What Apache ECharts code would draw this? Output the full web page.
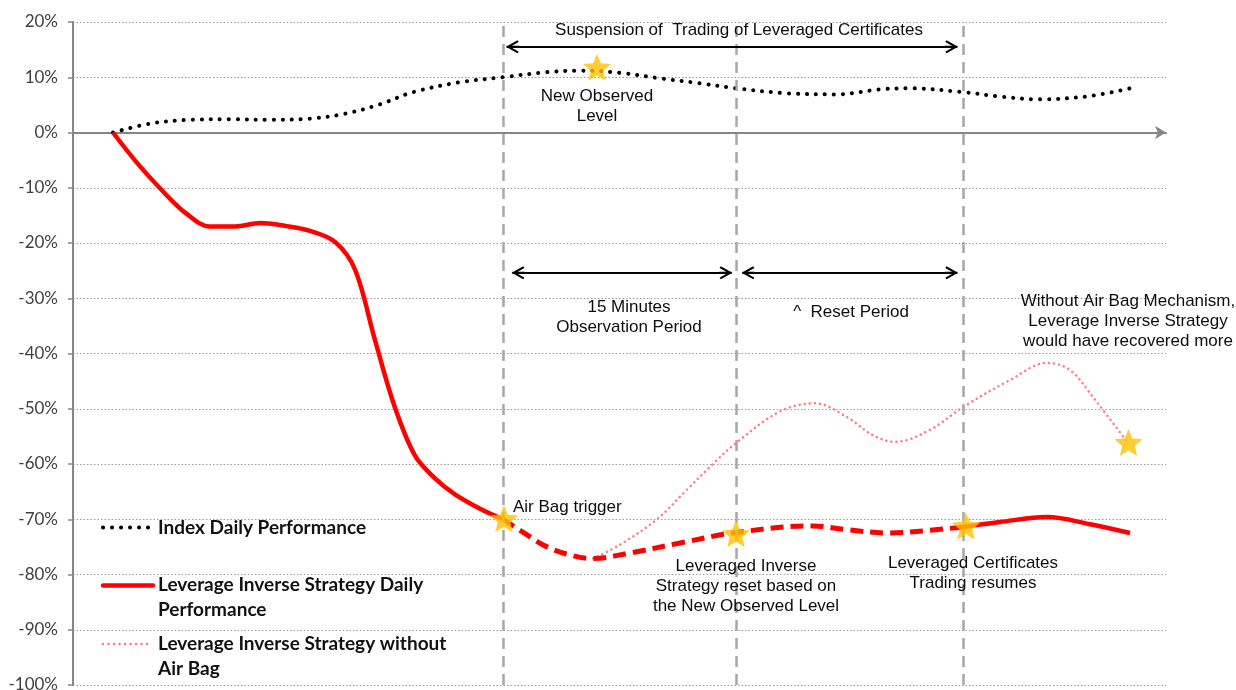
<!DOCTYPE html>
<html><head><meta charset="utf-8">
<script src="https://cdn.jsdelivr.net/npm/echarts@6/dist/echarts.min.js"></script>
<style>html,body{margin:0;padding:0;background:#fff}#c{width:1236px;height:690px}</style>
</head><body><div id="c"></div>
<script>
// ---- data (x: time position 0..100, y: performance in %) ----
const indexX = [3.66, 7.04, 10.70, 14.36, 18.02, 21.68, 24.89, 28.09, 31.11, 35.41, 39.34, 43.18, 46.39, 50.05, 53.71, 57.36, 60.66, 65.32, 69.90, 73.83, 76.58, 81.43, 84.81, 88.47, 93.05, 96.71];
const indexY = [0, 1.6, 2.3, 2.4, 2.3, 2.5, 3.4, 5.1, 7.3, 9.1, 10.0, 10.9, 11.2, 10.8, 9.8, 8.9, 8.0, 7.1, 6.9, 7.8, 8.0, 7.3, 6.5, 6.0, 6.6, 8.0];

const strategyX = [3.66, 5.86, 7.96, 10.25, 12.53, 14.82, 17.11, 19.40, 21.68, 23.97, 25.80, 27.63, 29.46, 31.29, 33.12, 34.95, 37.24, 39.34];
const strategyY = [0, -5.5, -10.1, -14.5, -17.0, -17.0, -16.4, -16.9, -17.8, -19.8, -24.8, -37.6, -49.8, -58.5, -62.6, -65.5, -68.1, -70.0];

const suspendedX = [39.34, 40.90, 43.37, 45.75, 47.58, 50.96, 55.54, 60.66, 67.70, 70.81, 74.75, 78.41, 81.43];
const suspendedY = [-70.0, -72.0, -75.0, -76.6, -77.1, -76.1, -74.3, -72.4, -71.2, -71.9, -72.5, -72.0, -71.4];

const resumedX = [81.43, 84.81, 89.11, 93.05, 96.71];
const resumedY = [-71.4, -70.5, -69.6, -70.9, -72.5];

const noAirBagX = [47.58, 50.05, 53.43, 55.99, 58.55, 60.66, 64.68, 67.89, 70.81, 73.19, 75.21, 78.41, 81.43, 85.73, 89.11, 91.22, 93.32, 96.52];
const noAirBagY = [-77.1, -74.6, -70.0, -65.0, -60.0, -56.2, -50.5, -49.0, -51.5, -54.8, -56.0, -53.8, -49.7, -44.8, -41.7, -43.0, -47.9, -56.2];

const starX = [39.43, 47.94, 60.66, 81.70, 96.57];
const starY = [-69.9, 11.8, -72.6, -71.2, -56.1];

const eventX = [39.34, 60.66, 81.43];

// arrows: [xFrom, xTo, y]  (chevron centres)
const arrowSpans = [[40.21, 80.38, 15.5], [40.73, 59.73, -25.4], [61.77, 80.38, -25.4]];

const yTicks = {min: -100, max: 20, interval: 10};
// -------------------------------------------------------------

const zip = (xs, ys) => xs.map((x, i) => [x, ys[i]]);
const STAR = 'path://M50,0 L63.2,31.8 L97.55,34.55 L71.4,57 L79.39,90.45 L50,72.5 L20.61,90.45 L28.6,57 L2.45,34.55 L36.8,31.8 Z';
const CHEVRON = 'path://M6.5,0 L13,11.5 L11.3,12.8 L6.5,4.2 L1.7,12.8 L0,11.5 Z M5.4,0.6 L7.6,0.6 L7.6,13 L5.4,13 Z';
const RED = '#ff0000';
const PINK = '#ff7c80';
const annFont = '17px "Liberation Sans", Arial, sans-serif';
const legFont = 'bold 19px Lato, "Noto Sans", sans-serif';

function annText(x, y, text, align) {
  return {type: 'text', x: x, y: y, silent: true, z: 100,
    style: {text: text, font: annFont, fill: '#0d0d0d', align: align || 'center', textAlign: align || 'center',
      verticalAlign: 'middle', textVerticalAlign: 'middle', lineHeight: 20}};
}
function legText(x, y, text) {
  return {type: 'text', x: x, y: y, silent: true, z: 100,
    style: {text: text, font: legFont, fill: '#111', align: 'left', textAlign: 'left',
      verticalAlign: 'middle', textVerticalAlign: 'middle', lineHeight: 25}};
}

const chart = echarts.init(document.getElementById('c'));
chart.setOption({
  animation: false,
  backgroundColor: '#fff',
  grid: {left: 73, right: 70, top: 22, bottom: 5, containLabel: false, outerBoundsMode: 'none'},
  xAxis: {
    type: 'value', min: 0, max: 100,
    axisLine: {show: true, onZero: true, symbol: ['none', 'arrow'], symbolSize: [10, 11],
      lineStyle: {color: '#868686', width: 2}},
    axisTick: {show: false}, axisLabel: {show: false}, splitLine: {show: false}
  },
  yAxis: {
    type: 'value', min: yTicks.min, max: yTicks.max, interval: yTicks.interval,
    axisLine: {show: true, onZero: false, lineStyle: {color: '#868686', width: 2}},
    axisTick: {show: true, length: 5, lineStyle: {color: '#868686', width: 1.5}},
    axisLabel: {margin: 15, fontFamily: 'Lato', fontSize: 17, color: '#404040', formatter: v => v + '%'},
    splitLine: {show: true, lineStyle: {color: '#9a9a9a', width: 1, type: [1.5, 2]}}
  },
  series: [
    {
      name: 'Leverage Inverse Strategy without Air Bag', type: 'line', z: 2,
      data: zip(noAirBagX, noAirBagY), smooth: 0.35, showSymbol: false,
      lineStyle: {color: PINK, width: 2.5, type: [0.1, 5], cap: 'round'},
      markLine: {
        silent: true, symbol: ['none', 'none'], label: {show: false},
        lineStyle: {color: '#a6a6a6', width: 2.5, type: [11, 7]},
        data: eventX.map(x => ({xAxis: x}))
      }
    },
    {
      name: 'Index Daily Performance', type: 'line', z: 3,
      data: zip(indexX, indexY), smooth: 0.35, showSymbol: false,
      lineStyle: {color: '#000', width: 4, type: [0.1, 8.9], cap: 'round'}
    },
    {
      name: 'Leverage Inverse Strategy Daily Performance', type: 'line', z: 4,
      data: zip(strategyX, strategyY), smooth: 0.35, showSymbol: false,
      lineStyle: {color: RED, width: 4.5}
    },
    {
      name: 'Leverage Inverse Strategy Daily Performance', type: 'line', z: 4,
      data: zip(suspendedX, suspendedY), smooth: 0.35, showSymbol: false,
      lineStyle: {color: RED, width: 5, type: [13, 7]}
    },
    {
      name: 'Leverage Inverse Strategy Daily Performance', type: 'line', z: 4,
      data: zip(resumedX, resumedY), smooth: 0.35, showSymbol: false,
      lineStyle: {color: RED, width: 4.5}
    },
    {
      name: 'Key points', type: 'scatter', z: 6,
      data: zip(starX, starY), symbol: STAR, symbolSize: [28, 27],
      itemStyle: {color: '#ffc000'},
      markLine: {
        silent: true, symbol: [CHEVRON, CHEVRON], symbolSize: [13, 13],
        label: {show: false},
        lineStyle: {color: '#000', width: 2.2, type: 'solid'},
        data: arrowSpans.map(a => [{coord: [a[0], a[2]]}, {coord: [a[1], a[2]]}])
      }
    }
  ],
  graphic: [
    annText(739, 30.5, 'Suspension of  Trading of Leveraged Certificates'),
    annText(597, 106, 'New Observed\nLevel'),
    annText(629, 317, '15 Minutes\nObservation Period'),
    annText(851, 312, '^  Reset Period'),
    annText(513, 507, 'Air Bag trigger', 'left'),
    annText(746, 586, 'Leveraged Inverse\nStrategy reset based on\nthe New Observed Level'),
    annText(973, 573, 'Leveraged Certificates\nTrading resumes'),
    annText(1128, 321.7, 'Without Air Bag Mechanism,\nLeverage Inverse Strategy\nwould have recovered more'),
    // legend
    {type: 'line', silent: true, z: 100, shape: {x1: 103, y1: 527.5, x2: 150, y2: 527.5},
      style: {stroke: '#000', lineWidth: 4, lineDash: [0.1, 8.9], lineCap: 'round'}},
    legText(158, 527.5, 'Index Daily Performance'),
    {type: 'line', silent: true, z: 100, shape: {x1: 103, y1: 585.5, x2: 153, y2: 585.5},
      style: {stroke: RED, lineWidth: 4.5, lineCap: 'round'}},
    legText(158, 597.5, 'Leverage Inverse Strategy Daily\nPerformance'),
    {type: 'line', silent: true, z: 100, shape: {x1: 103, y1: 644, x2: 150, y2: 644},
      style: {stroke: PINK, lineWidth: 2.5, lineDash: [0.1, 5.4], lineCap: 'round'}},
    legText(158, 656.5, 'Leverage Inverse Strategy without\nAir Bag')
  ]
});
</script></body></html>
